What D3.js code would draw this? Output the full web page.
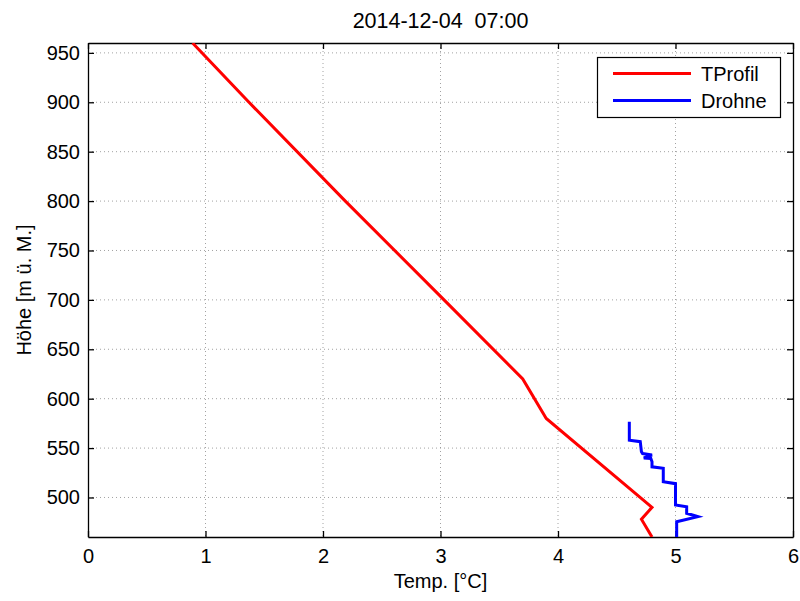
<!DOCTYPE html>
<html>
<head>
<meta charset="utf-8">
<script src="https://cdn.jsdelivr.net/npm/d3@7"></script>
<style>
body { margin: 0; background: #fff; }
svg { display: block; font-family: "Liberation Sans", Arial, sans-serif; }
</style>
</head>
<body>
<svg id="chart" width="800" height="601"></svg>
<script>
// ---- Data ----
const title = "2014-12-04  07:00";
const xLabel = "Temp. [°C]";
const yLabel = "Höhe [m ü. M.]";
const xTicks = [0, 1, 2, 3, 4, 5, 6];
const yTicks = [500, 550, 600, 650, 700, 750, 800, 850, 900, 950];
const seriesNames = ["TProfil", "Drohne"];
const seriesColors = ["#ff0000", "#0000ff"];

// TProfil: temperature vs altitude
const tprofilTemp = [0.89, 1.37, 2.19, 3.03, 3.70, 3.90, 4.80, 4.71, 4.80];
const tprofilAlt  = [960, 900, 800, 700, 620, 580, 490, 478, 460];

// Drohne: temperature vs altitude
const drohneTemp = [4.607, 4.607, 4.70, 4.71, 4.72, 4.80, 4.73, 4.79, 4.80, 4.80, 4.896, 4.896, 5.0, 5.0, 5.095, 5.095, 5.19, 5.01, 5.01];
const drohneAlt  = [576.7, 558, 556.5, 546.4, 544.5, 543, 540, 539.5, 536.2, 531, 529.5, 516, 514, 492.4, 490.7, 484, 480.6, 475.5, 460];

// ---- Layout ----
const svg = d3.select("#chart");
const m = { left: 88, right: 793, top: 43, bottom: 537 };
const x = d3.scaleLinear().domain([0, 6]).range([m.left, m.right]);
const y = d3.scaleLinear().domain([460, 960]).range([m.bottom, m.top]);
const FONT = "'Liberation Sans', Arial, sans-serif";

const gridColor = "#8a8a8a";
// grid
svg.append("g").selectAll("line").data(xTicks.slice(1, -1)).join("line")
  .attr("x1", d => x(d)).attr("x2", d => x(d))
  .attr("y1", m.top).attr("y2", m.bottom)
  .attr("stroke", gridColor).attr("stroke-width", 0.8).attr("stroke-dasharray", "1,3");
svg.append("g").selectAll("line").data(yTicks).join("line")
  .attr("y1", d => y(d)).attr("y2", d => y(d))
  .attr("x1", m.left).attr("x2", m.right)
  .attr("stroke", gridColor).attr("stroke-width", 0.8).attr("stroke-dasharray", "1,3");

// axes (ticks inward)
const tickLen = 6;
const axB = svg.append("g").attr("transform", `translate(0,${m.bottom})`)
  .call(d3.axisBottom(x).tickValues(xTicks).tickFormat(d3.format("d")).tickSizeInner(-tickLen).tickSizeOuter(0).tickPadding(12));
const axT = svg.append("g").attr("transform", `translate(0,${m.top})`)
  .call(d3.axisTop(x).tickValues(xTicks).tickFormat("").tickSizeInner(-tickLen).tickSizeOuter(0));
const axL = svg.append("g").attr("transform", `translate(${m.left},0)`)
  .call(d3.axisLeft(y).tickValues(yTicks).tickFormat(d3.format("d")).tickSizeInner(-tickLen).tickSizeOuter(0).tickPadding(8));
const axR = svg.append("g").attr("transform", `translate(${m.right},0)`)
  .call(d3.axisRight(y).tickValues(yTicks).tickFormat("").tickSizeInner(-tickLen).tickSizeOuter(0));
[axB, axT, axL, axR].forEach(a => {
  a.select(".domain").attr("stroke", "#000").attr("stroke-width", 1.3);
  a.selectAll(".tick line").attr("stroke", "#000").attr("stroke-width", 1.3);
  a.selectAll(".tick text").attr("font-size", 20).attr("fill", "#000").attr("font-family", FONT);
});

// lines
const clipId = "plotclip";
svg.append("clipPath").attr("id", clipId).append("rect")
  .attr("x", m.left).attr("y", m.top).attr("width", m.right - m.left).attr("height", m.bottom - m.top);
const line = d3.line().x(d => x(d[0])).y(d => y(d[1]));
const tData = tprofilTemp.map((t, i) => [t, tprofilAlt[i]]);
const dData = drohneTemp.map((t, i) => [t, drohneAlt[i]]);
svg.append("path").datum(tData).attr("d", line).attr("clip-path", `url(#${clipId})`)
  .attr("fill", "none").attr("stroke", seriesColors[0]).attr("stroke-width", 3).attr("stroke-linejoin", "miter");
svg.append("path").datum(dData).attr("d", line).attr("clip-path", `url(#${clipId})`)
  .attr("fill", "none").attr("stroke", seriesColors[1]).attr("stroke-width", 3).attr("stroke-linejoin", "miter");

// legend
const lg = svg.append("g");
lg.append("rect").attr("x", 597.5).attr("y", 57.5).attr("width", 183).attr("height", 60)
  .attr("fill", "#fff").attr("stroke", "#000").attr("stroke-width", 1.2);
seriesNames.forEach((name, i) => {
  const ly = 73.5 + i * 27;
  lg.append("line").attr("x1", 613).attr("x2", 691).attr("y1", ly).attr("y2", ly)
    .attr("stroke", seriesColors[i]).attr("stroke-width", 3);
  lg.append("text").attr("x", 701).attr("y", ly).attr("dy", "0.35em")
    .attr("font-size", 20).attr("font-family", FONT).text(name);
});

// titles
svg.append("text").attr("x", (m.left + m.right) / 2).attr("y", 28)
  .attr("text-anchor", "middle").attr("font-size", 21.5).attr("font-family", FONT)
  .style("white-space", "pre").text(title);
svg.append("text").attr("x", (m.left + m.right) / 2).attr("y", 588)
  .attr("text-anchor", "middle").attr("font-size", 20).attr("font-family", FONT).text(xLabel);
svg.append("text").attr("transform", `translate(31,${(m.top + m.bottom) / 2}) rotate(-90)`)
  .attr("text-anchor", "middle").attr("font-size", 20).attr("font-family", FONT).text(yLabel);
</script>
</body>
</html>
